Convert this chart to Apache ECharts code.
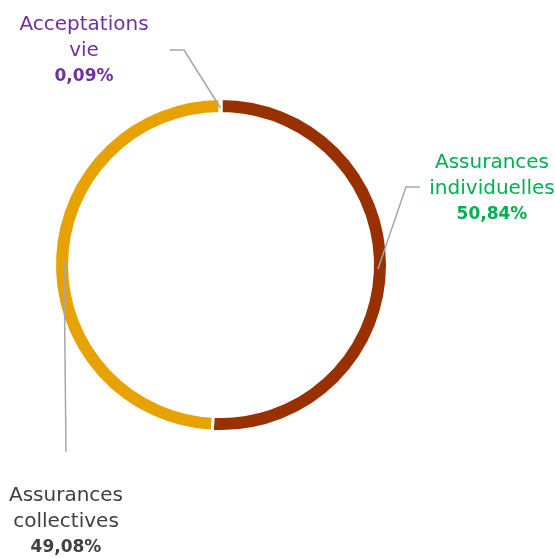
<!DOCTYPE html>
<html>
<head>
<meta charset="utf-8">
<script src="https://cdn.jsdelivr.net/npm/echarts@6/dist/echarts.min.js"></script>
<style>
  html, body { margin: 0; padding: 0; background: #fff; }
  #chart { width: 555px; height: 558px; }
</style>
</head>
<body>
<div id="chart"></div>
<script>
// Répartition des primes par branche (en %)
const categories = ['Assurances\nindividuelles', 'Assurances\ncollectives', 'Acceptations\nvie'];
const shares = [50.84, 49.08, 0.09];
const sliceColors = ['#993000', '#E8A200', '#BFBFBF'];
const labelColors = ['#00B050', '#404040', '#7030A0'];

// Ring geometry
const CENTER = [221, 265];
const R_IN = 151.5, R_OUT = 166.5;

// Label anchors and leader-line bends for each slice (bend null = straight line)
const labelSpots = [
  { x: 492, y: 189, bend: [406, 187], end: [420, 187] },
  { x: 66, y: 522, bend: null, end: [66, 452] },
  { x: 84, y: 51, bend: [184, 50], end: [170, 50] }
];

const fmtPct = v => v.toFixed(2).replace('.', ',') + '%';
const FONT = 'DejaVu Sans';

const chart = echarts.init(document.getElementById('chart'), null, { renderer: 'canvas' });

const data = categories.map((name, i) => ({
  name: name,
  value: shares[i],
  itemStyle: { color: sliceColors[i] },
  label: {
    formatter: '{n|' + name + '}\n{p|' + fmtPct(shares[i]) + '}',
    rich: {
      n: { color: labelColors[i], fontFamily: FONT, fontSize: 20, lineHeight: 26, align: 'center' },
      p: { color: labelColors[i], fontFamily: FONT, fontSize: 17, fontWeight: 'bold', lineHeight: 27, align: 'center' }
    }
  }
}));

// Leader lines: start mid-ring at each slice's middle angle (clockwise from top)
const total = shares.reduce((a, b) => a + b, 0);
let acc = 0;
const leaders = shares.map((v, i) => {
  const midFrac = (acc + v / 2) / total;
  acc += v;
  const ang = Math.PI / 2 - midFrac * 2 * Math.PI;
  const rMid = (R_IN + R_OUT) / 2 - 2;
  const start = [CENTER[0] + rMid * Math.cos(ang), CENTER[1] - rMid * Math.sin(ang)];
  const s = labelSpots[i];
  const pts = s.bend ? [start, s.bend, s.end] : [start, s.end];
  return {
    type: 'polyline',
    silent: true,
    z: 10,
    shape: { points: pts },
    style: { stroke: '#A6A6A6', lineWidth: 1.5, fill: null }
  };
});

chart.setOption({
  animation: false,
  backgroundColor: '#fff',
  graphic: leaders,
  series: [{
    type: 'pie',
    center: CENTER,
    radius: [R_IN, R_OUT],
    startAngle: 90,
    clockwise: true,
    avoidLabelOverlap: false,
    itemStyle: { borderColor: '#fff', borderWidth: 3 },
    label: { show: true, position: 'outside', align: 'center' },
    labelLine: { show: false },
    labelLayout: function (params) {
      const s = labelSpots[params.dataIndex];
      return { x: s.x, y: s.y, align: 'center', verticalAlign: 'middle' };
    },
    data: data
  }]
});
</script>
</body>
</html>
